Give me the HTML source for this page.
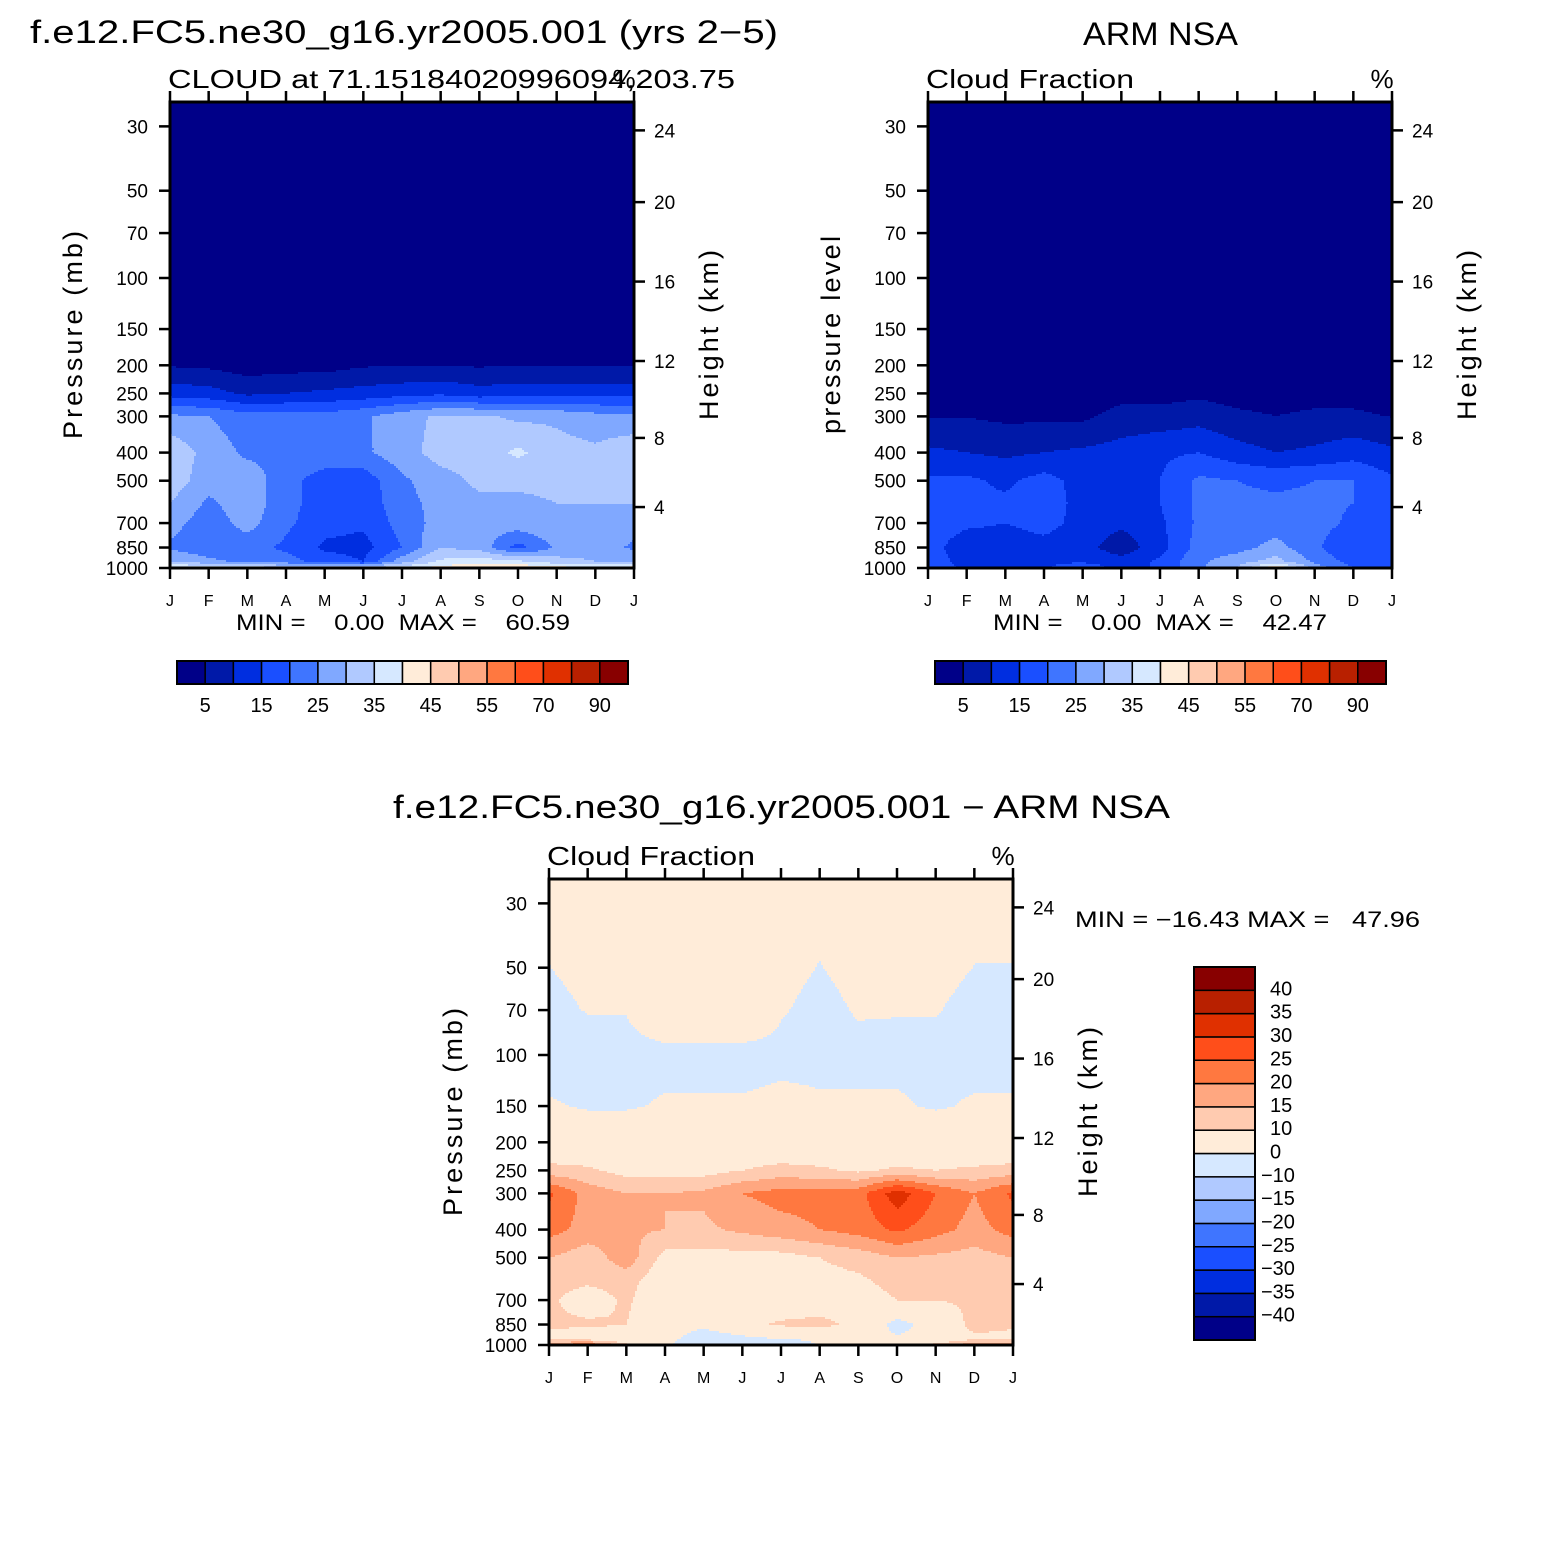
<!DOCTYPE html>
<html><head><meta charset="utf-8">
<style>
html,body{margin:0;padding:0;background:#fff;}
svg{display:block;font-family:"Liberation Sans",sans-serif;}
</style></head>
<body>
<svg id="fig" xmlns="http://www.w3.org/2000/svg" width="1563" height="1563" viewBox="0 0 1563 1563">
<rect width="1563" height="1563" fill="#fff"/>
<g id="root"></g>
</svg>
<script>
// ---------- data ----------
const months = ["J","F","M","A","M","J","J","A","S","O","N","D","J"];
const pressureLevels = [1000,950,850,700,600,500,400,300,250,200,150,100,70,50,25];
const pressureTicks = [30,50,70,100,150,200,250,300,400,500,700,850,1000];
const heightTicks = [4,8,12,16,20,24];
const absLevels = [5,10,15,20,25,30,35,40,45,50,55,60,70,80,90];
const absLabels = ["5","15","25","35","45","55","70","90"];
const diffLevels = [-40,-35,-30,-25,-20,-15,-10,0,10,15,20,25,30,35,40];
const diffLabels = ["40","35","30","25","20","15","10","0","\u221210","\u221215","\u221220","\u221225","\u221230","\u221235","\u221240"];
const palette = ["#000088","#0019a8","#002ee0","#1a4fff","#3f75ff","#80a8ff","#b0c9ff","#d6e8ff","#ffecd9","#ffcbb0","#ffa780","#ff7840","#ff4e1a","#e03000","#b82000","#880000"];
// model cloud fraction, rows follow pressureLevels
const modelCloud = [
 [42,40,38,36,36,36,38,42,45,45,42,40,42],
 [30,26,24,22,18,15,28,36,38,36,32,30,30],
 [24,22,22,19,14,13,20,30,28,18,26,28,24],
 [27,22,27,21,17,16,22,27,27,28,29,30,27],
 [30,24,28,22,17,17,23,27,29,29,30,30,30],
 [33,27,28,22,17,17,24,28,31,31,31,31,33],
 [34,28,24,24,24,24,28,32,32,36,32,31,34],
 [26,25,22,22,22,24,28,31,31,29,29,27,26],
 [13,12,9,10,11,12,13,14,12,13,13,13,13],
 [4.6,4,2.5,3,3,4.5,4.8,4.8,4.5,4.8,4.8,4.8,4.6],
 [2,2,2,2,2,2,2,2,2,2,2,2,2],
 [1,1,1,1,1,1,1,1,1,1,1,1,1],
 [1,1,1,1,1,1,1,1,1,1,1,1,1],
 [1,1,1,1,1,1,1,1,1,1,1,1,1],
 [1,1,1,1,1,1,1,1,1,1,1,1,1]];
// ARM NSA observed cloud fraction
const obsCloud = [
 [18,14,12,14,20,12,16,24,30,45,28,20,18],
 [18,13,12,14,14,12,16,24,28,32,24,18,18],
 [17,12,12,13,12,7,13,22,23,27,21,15,17],
 [18,16,15,17,13,11,14,21,22,22,22,19,18],
 [18,16,16,18,13,11,15,21,21,21,21,20,18],
 [16,16,14,17,13,11,15,21,20,19,20,20,16],
 [11,10,9,10,11,12,14,15,12,10,11,13,11],
 [4.8,4.8,4,4,4,7,7,8,6,5,6,6,4.8],
 [2,2,2,2,2,3,3,4,3,3,3,3,2],
 [1,1,1,1,1,1,1,1,1,1,1,1,1],
 [0.5,0.5,0.5,0.5,0.5,0.5,0.5,0.5,0.5,0.5,0.5,0.5,0.5],
 [0,0,0,0,0,0,0,0,0,0,0,0,0],
 [0,0,0,0,0,0,0,0,0,0,0,0,0],
 [0,0,0,0,0,0,0,0,0,0,0,0,0],
 [0,0,0,0,0,0,0,0,0,0,0,0,0]];
// model minus obs
const diffCloud = [
 [18,25,11,2,-8,-3,-10,1,1,1,12,18,18],
 [8,6,5,3,-5,-2,0.5,2,3,1,3,9,8],
 [11,11,10,5,2,8,11,12,8,-3,4,12,11],
 [11,7,11,5,5,5,5,6,7,10,10,11,11],
 [12,11,12,6,6,6,6,8,9,12,12,11,12],
 [15,12,18,8,8,8,8,10,12,15,14,13,15],
 [22,18,16,15,14,16,18,20,22,26,22,18,22],
 [26,18,15,15,16,20,22,22,23,33,25,20,26],
 [12,11,8,8,8,10,12,11,9,11,10,11,12],
 [4,4,4,4,4,4,4,4,4,4,4,4,4],
 [0.5,-0.5,-0.5,0.5,0.5,0.5,1,0.5,0.5,0.5,-0.5,0.5,0.5],
 [-2,-2,-1.5,-1.5,-1.5,-1.5,-1,-1,-1,-1,-1,-1.5,-1.5],
 [-1,0.2,0.2,4,4,4,0.3,-1,0.3,0.2,0.2,-1,-1],
 [-0.05,1,1,1,1,1,1,-0.1,1,1,1,-0.05,-0.05],
 [1,1,1,1,1,1,1,1,1,1,1,1,1]];

// ---------- helpers ----------
const NS="http://www.w3.org/2000/svg";
const root=document.getElementById('root');
function el(tag,attrs,parent){const e=document.createElementNS(NS,tag);for(const k in attrs)e.setAttribute(k,attrs[k]);(parent||root).appendChild(e);return e;}
function txt(s,attrs,parent){const e=el('text',attrs,parent);e.textContent=s;return e;}
const DEC=290;
function hToP(h){const m=h*1000;if(m<=11000)return 1013.25*Math.pow(1-2.25577e-5*m,5.25588);if(h<=20)return 226.32*Math.exp(-(m-11000)/6341.6);return 55.3*Math.exp(-(h-20)/6.9);}
function levelIndex(v,levels){let i=0;while(i<levels.length&&v>=levels[i])i++;return i;}
function valueAt(grid,mx,p){
  const lp=Math.log10(p);
  let r=0;
  while(r<pressureLevels.length-2&&p<pressureLevels[r+1])r++;
  const l0=Math.log10(pressureLevels[r]),l1=Math.log10(pressureLevels[r+1]);
  let t=(lp-l0)/(l1-l0);t=Math.max(0,Math.min(1,t));
  let c=Math.floor(mx);if(c>=12)c=11;if(c<0)c=0;
  let s=mx-c;
  const a=grid[r][c]*(1-s)+grid[r][c+1]*s;
  const b=grid[r+1][c]*(1-s)+grid[r+1][c+1]*s;
  return a*(1-t)+b*t;
}

function panel(o){
  const g=el('g',{});
  
  
  const X0=o.x,Y1=o.y+466,W=464,H=466;
  const xS=m=>X0+m*W/12;
  const yS=p=>Y1-DEC*Math.log10(1000/p);
  const fg=el('g',{'shape-rendering':'crispEdges'},g);
  
  
  const step=2;
  for(let py=0;py<H;py+=step){
    const yc=o.y+py+step/2;
    const p=1000/Math.pow(10,(Y1-yc)/DEC);
    let runStart=0,runCol=-1;
    for(let px=0;px<=W;px+=step){
      let ci=-2;
      if(px<W){const mx=(px+step/2)/W*12;ci=levelIndex(valueAt(o.grid,mx,p),o.levels);}
      if(ci!==runCol){
        if(runCol>=0){
          const r=el('rect',{x:X0+runStart,y:o.y+py,width:px-runStart,height:Math.min(step,H-py),fill:palette[runCol]},fg);
          
          
        }
        runStart=px;runCol=ci;
      }
    }
  }
  const fr=el('rect',{x:X0,y:o.y,width:W,height:H,fill:'none',stroke:'#000','stroke-width':3},g);
  
  
  months.forEach((m,i)=>{
    const x=xS(i);
    el('line',{x1:x,y1:o.y-11,x2:x,y2:o.y,stroke:'#000','stroke-width':2.5},g);
    el('line',{x1:x,y1:Y1,x2:x,y2:Y1+11,stroke:'#000','stroke-width':2.5},g);
    const t=txt(m,{x:x,y:Y1+38,'font-size':16,'text-anchor':'middle'},g);
    
    
  });
  pressureTicks.forEach(p=>{
    const y=yS(p);
    el('line',{x1:X0-11,y1:y,x2:X0,y2:y,stroke:'#000','stroke-width':2.5},g);
    const t=txt(String(p),{x:X0-22,y:y+7,'font-size':19,'text-anchor':'end'},g);
    
    
  });
  heightTicks.forEach(h=>{
    const y=yS(hToP(h));
    el('line',{x1:X0+W,y1:y,x2:X0+W+11,y2:y,stroke:'#000','stroke-width':2.5},g);
    const t=txt(String(h),{x:X0+W+20,y:y+7,'font-size':19},g);
    
    
  });
  const yc=o.y+233;
  const lt=txt(o.ylabel,{x:0,y:0,'font-size':27,'text-anchor':'middle',textLength:o.ylen,lengthAdjust:'spacing',transform:`translate(${o.ylx},${yc}) rotate(-90)`},g);
  
  
  const rt=txt('Height (km)',{x:0,y:0,'font-size':27,'text-anchor':'middle',textLength:170,lengthAdjust:'spacing',transform:`translate(${X0+W+84},${yc}) rotate(-90)`},g);
  
  
  const st=txt(o.sub,{x:X0-2,y:o.y-14,'font-size':26,textLength:o.subLen,lengthAdjust:'spacingAndGlyphs'},g);
  
  
  const pc=txt('%',{x:X0+W-10,y:o.y-14,'font-size':26,'text-anchor':'middle'},g);
  
  
  return g;
}

panel({name:'model-panel',x:170,y:102,grid:modelCloud,levels:absLevels,ylabel:'Pressure (mb)',ylx:82,ylen:208,sub:'CLOUD at 71.15184020996094,203.75',subLen:567});
panel({name:'obs-panel',x:928,y:102,grid:obsCloud,levels:absLevels,ylabel:'pressure level',ylx:840,ylen:198,sub:'Cloud Fraction',subLen:208});
panel({name:'diff-panel',x:549,y:879,grid:diffCloud,levels:diffLevels,ylabel:'Pressure (mb)',ylx:462,ylen:208,sub:'Cloud Fraction',subLen:208});

function title(s,x,y,len,name){const t=txt(s,{x:x,y:y,'font-size':32,textLength:len,lengthAdjust:'spacingAndGlyphs'});}
title('f.e12.FC5.ne30_g16.yr2005.001 (yrs 2\u22125)',30,43,748,'model-title');
title('ARM NSA',1083,45,155,'obs-title');
title('f.e12.FC5.ne30_g16.yr2005.001 \u2212 ARM NSA',393,818,777,'diff-title');

function mm(s,x,y,len,name){const t=txt(s,{x:x,y:y,'font-size':22,textLength:len,lengthAdjust:'spacingAndGlyphs',style:'white-space:pre'});}
mm('MIN =    0.00  MAX =    60.59',236,630,334,'model-min-max');
mm('MIN =    0.00  MAX =    42.47',993,630,334,'obs-min-max');
mm('MIN = \u221216.43 MAX =   47.96',1075,927,345,'diff-min-max');

// horizontal colorbars
function hbar(x0,name){
  const g=el('g',{});
  const w=451/16;
  palette.forEach((c,i)=>{const r=el('rect',{x:x0+i*w,y:661,width:w,height:23,fill:c,stroke:'#000','stroke-width':1.5},g);});
  el('rect',{x:x0,y:661,width:451,height:23,fill:'none',stroke:'#000','stroke-width':2},g);
  absLabels.forEach((s,i)=>{const t=txt(s,{x:x0+(1+2*i)*w,y:712,'font-size':20,'text-anchor':'middle'},g);});
}
hbar(177,'model-colorbar');hbar(935,'obs-colorbar');
// vertical diff colorbar
(function(){
  const g=el('g',{});
  const h=373/16;
  palette.forEach((c,i)=>{const r=el('rect',{x:1194,y:967+(15-i)*h,width:61,height:h,fill:c,stroke:'#000','stroke-width':1.5},g);});
  el('rect',{x:1194,y:967,width:61,height:373,fill:'none',stroke:'#000','stroke-width':2},g);
  diffLabels.forEach((s,i)=>{const t=txt(s,{x:s[0]==='\u2212'?1261:1270,y:967+(i+1)*h+5,'font-size':20},g);});
})();
</script>
</body></html>
